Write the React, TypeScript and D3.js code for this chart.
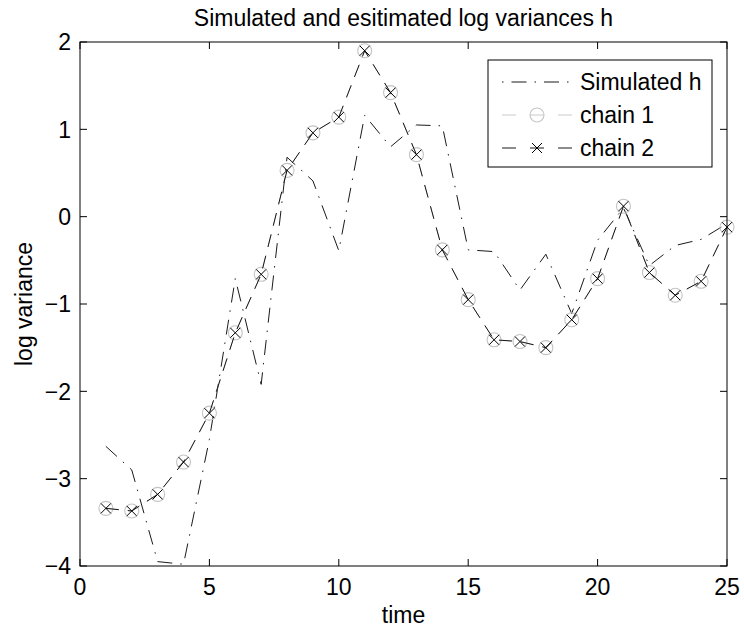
import React, { useEffect, useRef } from "react";
import * as d3 from "d3";

// time points and the three series
const time = d3.range(1, 26);
const simulatedH = [
  -2.63, -2.9, -3.95, -3.98, -2.55, -0.71, -1.92, 0.68, 0.41, -0.39, 1.16, 0.8, 1.05,
  1.04, -0.38, -0.4, -0.84, -0.43, -1.11, -0.27, 0.1, -0.56, -0.33, -0.26, -0.08,
];
const chain1 = [
  -3.34, -3.37, -3.18, -2.81, -2.25, -1.33, -0.66, 0.53, 0.96, 1.14, 1.9, 1.42, 0.71,
  -0.38, -0.95, -1.41, -1.43, -1.5, -1.18, -0.71, 0.12, -0.64, -0.9, -0.74, -0.12,
];
const chain2 = [
  -3.34, -3.37, -3.18, -2.81, -2.25, -1.33, -0.66, 0.53, 0.96, 1.14, 1.9, 1.42, 0.71,
  -0.38, -0.95, -1.41, -1.43, -1.5, -1.18, -0.71, 0.12, -0.64, -0.9, -0.74, -0.12,
];
const xTicks = [0, 5, 10, 15, 20, 25];
const yTicks = [-4, -3, -2, -1, 0, 1, 2];
const legendLabels = ["Simulated h", "chain 1", "chain 2"];

const FONT = "'Liberation Sans', Arial, Helvetica, sans-serif";
const FS = "23px";
const GREY = "#c4c4c4";
const DASHDOT = "15 8 1.5 8";
const DASH = "13 9";

const App = () => {
  const svgRef = useRef(null);

  useEffect(() => {
    const width = 744;
    const height = 632;
    const margin = { top: 42, right: 17, bottom: 66, left: 80 };
    const innerW = width - margin.left - margin.right;
    const innerH = height - margin.top - margin.bottom;

    const svg = d3.select(svgRef.current);
    svg.selectAll("*").remove();
    svg.attr("width", width).attr("height", height);

    svg.append("rect").attr("width", width).attr("height", height).attr("fill", "#fff");

    const g = svg.append("g").attr("transform", `translate(${margin.left},${margin.top})`);

    const x = d3.scaleLinear().domain([0, 25]).range([0, innerW]);
    const y = d3.scaleLinear().domain([-4, 2]).range([innerH, 0]);

    const line = d3
      .line<number>()
      .x((d, i) => x(time[i]))
      .y((d) => y(d));

    // simulated h
    g.append("path")
      .datum(simulatedH)
      .attr("fill", "none")
      .attr("stroke", "#000")
      .attr("stroke-width", 0.9)
      .attr("stroke-dasharray", DASHDOT)
      .attr("d", line);

    // chain 1: grey dashed with circles
    g.append("path")
      .datum(chain1)
      .attr("fill", "none")
      .attr("stroke", GREY)
      .attr("stroke-width", 0.9)
      .attr("stroke-dasharray", DASH)
      .attr("d", line);
    g.selectAll(".c1")
      .data(chain1)
      .enter()
      .append("circle")
      .attr("cx", (d, i) => x(time[i]))
      .attr("cy", (d) => y(d))
      .attr("r", 7)
      .attr("fill", "none")
      .attr("stroke", GREY)
      .attr("stroke-width", 1.1);

    // chain 2: black dashed with crosses
    g.append("path")
      .datum(chain2)
      .attr("fill", "none")
      .attr("stroke", "#000")
      .attr("stroke-width", 0.9)
      .attr("stroke-dasharray", DASH)
      .attr("d", line);
    const s = 5;
    g.selectAll(".c2")
      .data(chain2)
      .enter()
      .append("path")
      .attr("transform", (d, i) => `translate(${x(time[i])},${y(d)})`)
      .attr("d", `M${-s},${-s}L${s},${s}M${-s},${s}L${s},${-s}`)
      .attr("stroke", "#000")
      .attr("stroke-width", 1);

    // axes box
    g.append("rect")
      .attr("width", innerW)
      .attr("height", innerH)
      .attr("fill", "none")
      .attr("stroke", "#000")
      .attr("stroke-width", 1);

    const tickLen = 7;
    xTicks.forEach((t) => {
      g.append("line").attr("x1", x(t)).attr("x2", x(t)).attr("y1", innerH).attr("y2", innerH - tickLen).attr("stroke", "#000");
      g.append("line").attr("x1", x(t)).attr("x2", x(t)).attr("y1", 0).attr("y2", tickLen).attr("stroke", "#000");
      g.append("text")
        .attr("x", x(t))
        .attr("y", innerH + 29)
        .attr("text-anchor", "middle")
        .style("font-family", FONT)
        .style("font-size", FS)
        .text(d3.format("d")(t));
    });
    yTicks.forEach((t) => {
      g.append("line").attr("x1", 0).attr("x2", tickLen).attr("y1", y(t)).attr("y2", y(t)).attr("stroke", "#000");
      g.append("line").attr("x1", innerW).attr("x2", innerW - tickLen).attr("y1", y(t)).attr("y2", y(t)).attr("stroke", "#000");
      g.append("text")
        .attr("x", -9)
        .attr("y", y(t))
        .attr("dy", "0.36em")
        .attr("text-anchor", "end")
        .style("font-family", FONT)
        .style("font-size", FS)
        .text(d3.format("d")(t));
    });

    // labels and title
    g.append("text")
      .attr("x", innerW / 2)
      .attr("y", innerH + 57)
      .attr("text-anchor", "middle")
      .style("font-family", FONT)
      .style("font-size", FS)
      .text("time");
    g.append("text")
      .attr("transform", `translate(-48,${innerH / 2})rotate(-90)`)
      .attr("text-anchor", "middle")
      .style("font-family", FONT)
      .style("font-size", FS)
      .text("log variance");
    g.append("text")
      .attr("x", innerW / 2)
      .attr("y", -16)
      .attr("text-anchor", "middle")
      .style("font-family", FONT)
      .style("font-size", FS)
      .text("Simulated and esitimated log variances h");

    // legend
    const lg = g.append("g").attr("transform", `translate(${innerW - 239},18)`);
    lg.append("rect")
      .attr("width", 224)
      .attr("height", 107)
      .attr("fill", "#fff")
      .attr("stroke", "#000")
      .attr("stroke-width", 1);
    const rowY = (i) => 22 + i * 33;
    const styles = [
      { stroke: "#000", dash: "1.5 8 15 8" },
      { stroke: GREY, dash: "14 14" },
      { stroke: "#000", dash: "14 14" },
    ];
    legendLabels.forEach((label, i) => {
      lg.append("line")
        .attr("x1", 14)
        .attr("x2", 84)
        .attr("y1", rowY(i))
        .attr("y2", rowY(i))
        .attr("stroke", styles[i].stroke)
        .attr("stroke-width", 0.9)
        .attr("stroke-dasharray", styles[i].dash);
      lg.append("text")
        .attr("x", 92)
        .attr("y", rowY(i))
        .attr("dy", "0.36em")
        .style("font-family", FONT)
        .style("font-size", FS)
        .text(label);
    });
    lg.append("circle")
      .attr("cx", 49)
      .attr("cy", rowY(1))
      .attr("r", 7)
      .attr("fill", "none")
      .attr("stroke", GREY)
      .attr("stroke-width", 1.1);
    lg.append("path")
      .attr("transform", `translate(49,${rowY(2)})`)
      .attr("d", `M${-s},${-s}L${s},${s}M${-s},${s}L${s},${-s}`)
      .attr("stroke", "#000")
      .attr("stroke-width", 1);
  }, []);

  return (
    <div style={{ position: "absolute", left: 0, top: 0 }}>
      <svg ref={svgRef} style={{ display: "block" }} />
    </div>
  );
};

export default App;
